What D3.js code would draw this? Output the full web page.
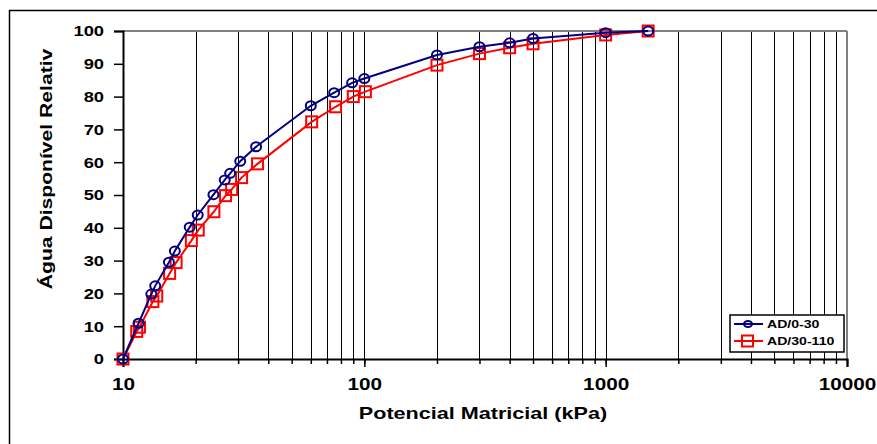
<!DOCTYPE html>
<html><head><meta charset="utf-8">
<script src="https://cdn.jsdelivr.net/npm/d3@7"></script>
<style>
html,body{margin:0;padding:0;background:#fff;}
svg text{font-family:"Liberation Sans",Arial,sans-serif;font-weight:bold;fill:#000;}
</style></head>
<body>
<svg id="chart" width="877" height="444"></svg>
<script>
// ---- data ----
const seriesNames = ["AD/0-30", "AD/30-110"];
const potA = [10, 11.6, 13.1, 13.6, 15.5, 16.4, 18.9, 20.4, 23.7, 26.4, 27.8, 30.6, 35.6, 60, 75, 89, 100, 200, 300, 400, 500, 1000, 1500];
const adA  = [0, 10.9, 19.8, 22.3, 29.5, 32.9, 40.2, 43.9, 50.1, 54.6, 56.6, 60.3, 64.7, 77.2, 81.2, 84.2, 85.5, 92.7, 95.2, 96.4, 97.7, 99.5, 100];
const potB = [10, 11.4, 11.7, 13.3, 13.8, 15.6, 16.6, 19.2, 20.5, 23.8, 26.6, 28.2, 31.0, 36.1, 60.5, 76, 90, 101, 200, 300, 400, 500, 1000, 1500];
const adB  = [0, 8.4, 9.7, 17.5, 19.2, 26.1, 29.4, 36.1, 39.3, 44.9, 49.8, 51.7, 55.3, 59.5, 72.3, 76.9, 80.0, 81.5, 89.6, 93.1, 94.9, 96.1, 98.8, 100];
const xTickValues = [10, 100, 1000, 10000];
const xTickLabels = ["10", "100", "1000", "10000"];
const yTickValues = [0, 10, 20, 30, 40, 50, 60, 70, 80, 90, 100];
const xTitle = "Potencial Matricial (kPa)";
const yTitle = "Água Disponível Relativ";

const svg = d3.select("#chart");
const L = 123, R = 847, T = 31, B = 359;
const x = d3.scaleLog().domain([10, 10000]).range([L, R]);
const y = d3.scaleLinear().domain([0, 100]).range([B, T]);

// widen text glyphs horizontally (reference text is drawn wide)
function stretch(sel, f) {
  sel.each(function () {
    const w = this.getComputedTextLength();
    d3.select(this).attr("textLength", w * f).attr("lengthAdjust", "spacingAndGlyphs");
  });
}

// outer border (right/bottom cropped)
svg.append("rect").attr("x", 9.5).attr("y", 10.5).attr("width", 900).attr("height", 500)
  .attr("fill", "none").attr("stroke", "#000").attr("stroke-width", 1.5);

// minor + major vertical gridlines
const gridVals = [];
for (let d = 10; d < 10000; d *= 10) for (let k = 1; k <= 9; k++) { const v = d * k; if (v > 10) gridVals.push(v); }
svg.append("g").selectAll("line").data(gridVals).join("line")
  .attr("x1", d => Math.round(x(d)) + 0.5).attr("x2", d => Math.round(x(d)) + 0.5)
  .attr("y1", T).attr("y2", B).attr("stroke", "#000").attr("stroke-width", 1);

// plot frame top/right gray
svg.append("line").attr("x1", L).attr("x2", R).attr("y1", T).attr("y2", T).attr("stroke", "#808080").attr("stroke-width", 2);
svg.append("line").attr("x1", R).attr("x2", R).attr("y1", T).attr("y2", B).attr("stroke", "#808080").attr("stroke-width", 2);

// x axis
const xAxisMinor = d3.axisBottom(x).tickValues(gridVals.concat([10000])).tickSize(5).tickFormat("");
svg.append("g").attr("transform", `translate(0,${B})`).call(xAxisMinor)
  .call(g => { g.select(".domain").remove(); g.selectAll("line").attr("stroke", "#000").attr("stroke-width", 1.5); });
const xAxis = d3.axisBottom(x).tickValues(xTickValues).tickSize(8).tickPadding(9)
  .tickFormat((d, i) => xTickLabels[i]);
svg.append("g").attr("transform", `translate(0,${B})`).call(xAxis)
  .call(g => {
    g.select(".domain").attr("stroke", "#000").attr("stroke-width", 2);
    g.selectAll("line").attr("stroke", "#000").attr("stroke-width", 1.5);
    g.selectAll("text").style("font-size", "17px").attr("fill", "#000").attr("dy", "0.8em");
    stretch(g.selectAll("text"), 1.22);
  });

// y axis
const yAxis = d3.axisLeft(y).tickValues(yTickValues).tickSize(9).tickPadding(10).tickFormat(d3.format("d"));
svg.append("g").attr("transform", `translate(${L},0)`).call(yAxis)
  .call(g => {
    g.select(".domain").attr("stroke", "#000").attr("stroke-width", 2);
    g.selectAll("line").attr("stroke", "#000").attr("stroke-width", 1.5);
    g.selectAll("text").style("font-size", "15px").attr("fill", "#000");
    stretch(g.selectAll("text"), 1.22);
  });

// titles
const xt = svg.append("text").attr("x", 483).attr("y", 419).attr("text-anchor", "middle").style("font-size", "17px").text(xTitle);
stretch(xt, 1.27);
const yt = svg.append("text").attr("transform", "translate(52,169) rotate(-90)").attr("text-anchor", "middle").style("font-size", "16px").text(yTitle);
stretch(yt, 1.32);

// series
const dataA = potA.map((p, i) => ({ p, v: adA[i] }));
const dataB = potB.map((p, i) => ({ p, v: adB[i] }));
const line = d3.line().x(d => x(d.p)).y(d => y(d.v));
const colA = "#000080", colB = "#FF0000";

svg.append("path").datum(dataB).attr("d", line).attr("fill", "none").attr("stroke", colB).attr("stroke-width", 2);
svg.append("g").selectAll("rect").data(dataB).join("rect")
  .attr("x", d => x(d.p) - 5.5).attr("y", d => y(d.v) - 5.5).attr("width", 11).attr("height", 11)
  .attr("fill", "none").attr("stroke", colB).attr("stroke-width", 2);

svg.append("path").datum(dataA).attr("d", line).attr("fill", "none").attr("stroke", colA).attr("stroke-width", 2);
svg.append("g").selectAll("ellipse").data(dataA).join("ellipse")
  .attr("cx", d => x(d.p)).attr("cy", d => y(d.v)).attr("rx", 5).attr("ry", 4.5)
  .attr("fill", "none").attr("stroke", colA).attr("stroke-width", 2);

// legend
const lg = svg.append("g");
lg.append("rect").attr("x", 730).attr("y", 315).attr("width", 114).attr("height", 37)
  .attr("fill", "#fff").attr("stroke", "#000").attr("stroke-width", 1.5);
const items = [{ n: seriesNames[0], c: colA, m: "c" }, { n: seriesNames[1], c: colB, m: "s" }];
items.forEach((it, i) => {
  const yy = 324 + i * 17;
  lg.append("line").attr("x1", 734).attr("x2", 763).attr("y1", yy).attr("y2", yy).attr("stroke", it.c).attr("stroke-width", 2);
  if (it.m === "c") lg.append("ellipse").attr("cx", 748).attr("cy", yy).attr("rx", 4).attr("ry", 3).attr("fill", "none").attr("stroke", it.c).attr("stroke-width", 2);
  else lg.append("rect").attr("x", 742).attr("y", yy - 5.5).attr("width", 11).attr("height", 11).attr("fill", "none").attr("stroke", it.c).attr("stroke-width", 2);
  const t = lg.append("text").attr("x", 767).attr("y", yy + 4).style("font-size", "11px").text(it.n);
  stretch(t, 1.28);
});
</script>
</body></html>
